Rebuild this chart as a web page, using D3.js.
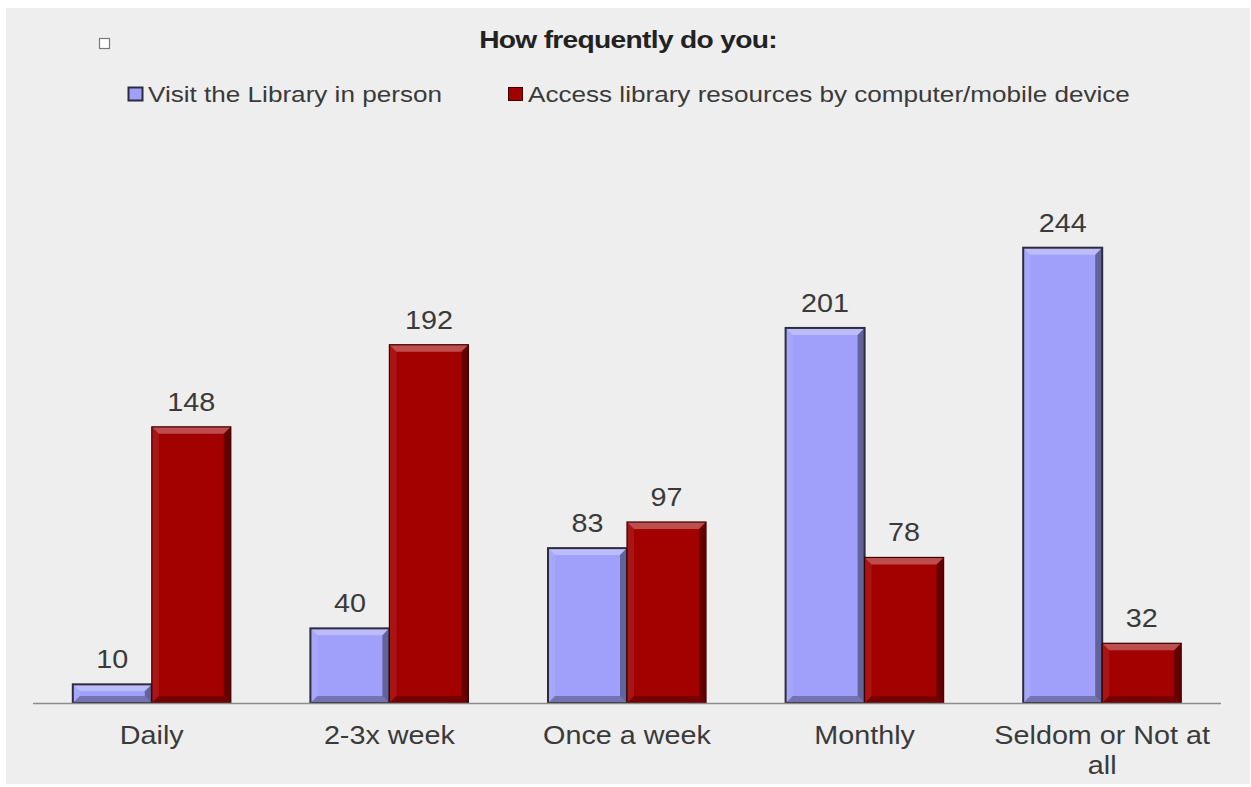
<!DOCTYPE html>
<html>
<head>
<meta charset="utf-8">
<script src="https://cdn.jsdelivr.net/npm/d3@7"></script>
<style>
  body { margin: 0; background: #ffffff; }
  text { font-family: "Liberation Sans", Arial, sans-serif; fill: #3a3a3a; }
</style>
</head>
<body>
<svg id="chart" width="1251" height="787"></svg>
<script>
// data
var categories = ["Daily", "2-3x week", "Once a week", "Monthly", "Seldom or Not at all"];
var seriesNames = ["Visit the Library in person", "Access library resources by computer/mobile device"];
var visitValues = [10, 40, 83, 201, 244];
var accessValues = [148, 192, 97, 78, 32];

var fills = ["#a0a0fa", "#a30000"];
var strokes = ["#2c2c3c", "#3c0000"];
var stretch = 1.15; // text in the picture is a bit wide

var svg = d3.select("#chart");

// grey panel
svg.append("rect")
  .attr("x", 6).attr("y", 8)
  .attr("width", 1244).attr("height", 776)
  .attr("fill", "#eeeeee");

var x0 = d3.scaleBand()
  .domain(categories)
  .range([33, 1221])
  .paddingInner(0.335)
  .paddingOuter(0.1675);

var x1 = d3.scaleBand()
  .domain([0, 1])
  .range([0, x0.bandwidth()]);

var y = d3.scaleLinear()
  .domain([0, 260])
  .range([703, 703 - 260 * 1.866]);

var rows = [];
categories.forEach(function(c, i) {
  rows.push({cat: c, s: 0, v: visitValues[i]});
  rows.push({cat: c, s: 1, v: accessValues[i]});
});

// little helper so text keeps the wide look
function wideText(sel, x, y, size, weight, anchor) {
  return sel.append("text")
    .attr("transform", "translate(" + x + "," + y + ") scale(" + stretch + ",1)")
    .attr("text-anchor", anchor || "middle")
    .style("font-size", size + "px")
    .style("font-weight", weight || "normal");
}

// bars with bevelled edges
var bars = svg.append("g").selectAll("g.bar")
  .data(rows)
  .enter().append("g")
    .attr("class", "bar");

bars.each(function(d) {
  var g = d3.select(this);
  var bx = x0(d.cat) + x1(d.s),
      bw = x1.bandwidth(),
      by = y(d.v),
      bh = y(0) - y(d.v),
      b = Math.min(7, bh / 2);
  g.append("rect")
    .attr("x", bx).attr("y", by)
    .attr("width", bw).attr("height", bh)
    .attr("fill", fills[d.s]);
  var pts = {
    top:    [[bx, by], [bx + bw, by], [bx + bw - b, by + b], [bx + b, by + b]],
    left:   [[bx, by], [bx + b, by + b], [bx + b, by + bh - b], [bx, by + bh]],
    right:  [[bx + bw, by], [bx + bw, by + bh], [bx + bw - b, by + bh - b], [bx + bw - b, by + b]],
    bottom: [[bx, by + bh], [bx + b, by + bh - b], [bx + bw - b, by + bh - b], [bx + bw, by + bh]]
  };
  var shade = {top: ["#ffffff", 0.3], left: ["#ffffff", 0.08], right: ["#000000", 0.38], bottom: ["#000000", 0.28]};
  Object.keys(pts).forEach(function(k) {
    g.append("polygon")
      .attr("points", pts[k].map(function(p) { return p.join(","); }).join(" "))
      .attr("fill", shade[k][0])
      .attr("fill-opacity", shade[k][1]);
  });
  g.append("rect")
    .attr("x", bx).attr("y", by)
    .attr("width", bw).attr("height", bh)
    .attr("fill", "none")
    .attr("stroke", strokes[d.s])
    .attr("stroke-width", d.s === 0 ? 2 : 1.2);
});

// value labels
rows.forEach(function(d) {
  wideText(svg, x0(d.cat) + x1(d.s) + x1.bandwidth() / 2, y(d.v) - 16, 25)
    .text(d.v);
});

// baseline
svg.append("line")
  .attr("x1", 33).attr("x2", 1221)
  .attr("y1", y(0) + 0.5).attr("y2", y(0) + 0.5)
  .attr("stroke", "#8c8c8c")
  .attr("stroke-width", 1.5);

// category labels, wrapped
categories.forEach(function(c) {
  var words = c.split(" "), lines = [], line = [];
  var probe = wideText(svg, 0, 0, 25);
  words.forEach(function(w) {
    line.push(w);
    probe.text(line.join(" "));
    if (probe.node().getComputedTextLength() * stretch > 225 && line.length > 1) {
      line.pop();
      lines.push(line.join(" "));
      line = [w];
    }
  });
  lines.push(line.join(" "));
  probe.remove();
  lines.forEach(function(l, i) {
    wideText(svg, x0(c) + x0.bandwidth() / 2, 744 + i * 30, 25).text(l);
  });
});

// title
wideText(svg, 628, 48, 24.5, "bold")
  .style("letter-spacing", "-0.6px")
  .style("fill", "#222")
  .text("How frequently do you:");

// stray empty legend marker
svg.append("rect")
  .attr("x", 99.5).attr("y", 38.5)
  .attr("width", 10).attr("height", 10)
  .attr("fill", "#ffffff")
  .attr("stroke", "#7a7a7a")
  .attr("stroke-width", 1.2);

// legend
var legendX = [128, 508];
seriesNames.forEach(function(n, i) {
  svg.append("rect")
    .attr("x", legendX[i] + 0.5).attr("y", 87.5)
    .attr("width", 14).attr("height", 13)
    .attr("fill", fills[i])
    .attr("stroke", strokes[i])
    .attr("stroke-width", i === 0 ? 2 : 1);
  wideText(svg, legendX[i] + 20, 102, 22.7, "normal", "start").text(n);
});
</script>
</body>
</html>
